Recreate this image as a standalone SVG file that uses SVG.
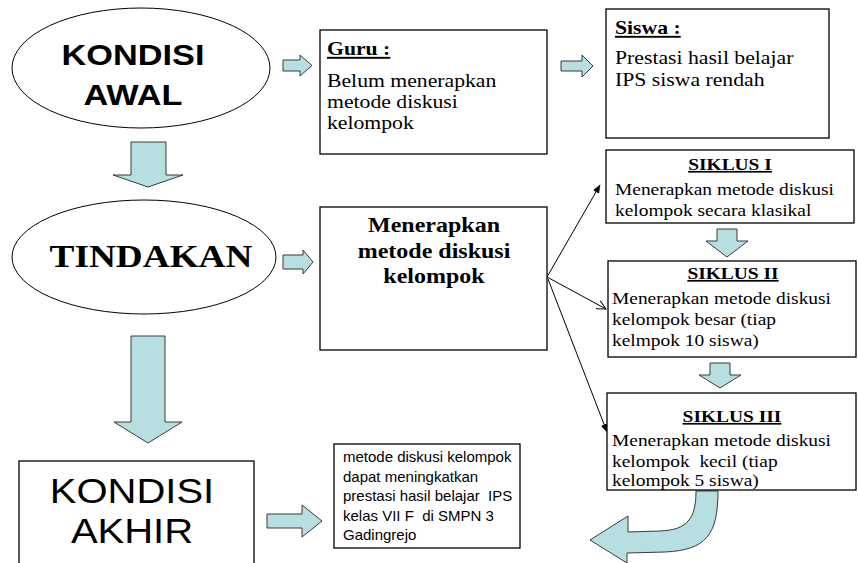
<svg xmlns="http://www.w3.org/2000/svg" width="858" height="563" viewBox="0 0 858 563">
<style>
.box{fill:#fff;stroke:#000;stroke-width:1.3}
.ell{fill:#fff;stroke:#000;stroke-width:1}
.blk{fill:#B7DEE0;stroke:#3a3a3a;stroke-width:1}
.con{stroke:#000;stroke-width:1;fill:none}
.tr{font-family:"Liberation Serif","Times New Roman",serif;fill:#000}
.ar{font-family:"Liberation Sans",Arial,sans-serif;fill:#000}
.b{font-weight:bold}
.u{text-decoration:underline}
.pre{white-space:pre}
</style>
<defs>
<marker id="arrF" markerWidth="9" markerHeight="8" refX="8" refY="4" orient="auto" markerUnits="userSpaceOnUse">
<path d="M0,0.5 L8.5,4 L0,7.5 Z" fill="#000"/>
</marker>
<marker id="arrO" markerWidth="10" markerHeight="10" refX="9" refY="5" orient="auto" markerUnits="userSpaceOnUse">
<path d="M0,0.5 L9,5 L0,9.5" fill="none" stroke="#000" stroke-width="1"/>
</marker>
</defs>

<g id="connectors">
<line class="con" x1="547" y1="277" x2="600" y2="185" marker-end="url(#arrF)"/>
<line class="con" x1="547" y1="277" x2="606" y2="309" marker-end="url(#arrO)"/>
<line class="con" x1="548" y1="279" x2="607" y2="432" marker-end="url(#arrF)"/>
<path class="blk" d="M283,60 H300 V55 L312,65.5 L300,76 V71 H283 Z"/>
<path class="blk" d="M561,61 H582 V55 L593,66 L582,77 V71 H561 Z"/>
<path class="blk" d="M131,142 H166 V175 H183 L148,187 L113,175 H131 Z"/>
<path class="blk" d="M283,255 H303 V250 L313,262 L303,274 V269 H283 Z"/>
<path class="blk" d="M131,336 H165 V422 H182 L148,443 L114,422 H131 Z"/>
<path class="blk" d="M717,229 H737 V241 H748 L727,257 L706,241 H717 Z"/>
<path class="blk" d="M710,363 H730 V375 H741 L720,388 L699,375 H710 Z"/>
<path class="blk" d="M267,514 H302 V505 L322,521 L302,537 V528 H267 Z"/>
<path class="blk" d="M696,491 C696,519 687,530 660,531 L628,532 L628,516 L590,540 L627,563 L627,553 L665,552 C706,550 718,535 718,491 Z"/>
</g>

<g id="kondisi-awal">
<ellipse class="ell" cx="141" cy="68" rx="129" ry="60"/>
<text class="ar b" font-size="30" text-anchor="middle" transform="translate(133,0) scale(1.143,1)"><tspan x="0" y="65">KONDISI</tspan><tspan x="0" y="105">AWAL</tspan></text>
</g>

<g id="guru">
<rect class="box" x="320" y="30" width="227" height="124"/>
<text class="tr" font-size="19" transform="translate(327,0) scale(1.143,1)"><tspan x="0" y="55" class="b u">Guru :</tspan><tspan x="0" y="87">Belum menerapkan</tspan><tspan x="0" y="108">metode diskusi</tspan><tspan x="0" y="129">kelompok</tspan></text>
</g>

<g id="siswa">
<rect class="box" x="606" y="9" width="223" height="129"/>
<text class="tr" font-size="19" transform="translate(615,0) scale(1.143,1)"><tspan x="0" y="34" class="b u">Siswa :</tspan><tspan x="0" y="64">Prestasi hasil belajar</tspan><tspan x="0" y="86">IPS siswa rendah</tspan></text>
</g>

<g id="tindakan">
<ellipse class="ell" cx="144" cy="257" rx="132" ry="57"/>
<text class="tr b" font-size="32.6" text-anchor="middle" transform="translate(151,0) scale(1.143,1)"><tspan x="0" y="267">TINDAKAN</tspan></text>
</g>

<g id="menerapkan">
<rect class="box" x="320" y="207" width="227" height="143"/>
<text class="tr b" font-size="21" text-anchor="middle" transform="translate(434,0) scale(1.143,1)"><tspan x="0" y="232">Menerapkan</tspan><tspan x="0" y="258">metode diskusi</tspan><tspan x="0" y="283">kelompok</tspan></text>
</g>

<g id="siklus-1">
<rect class="box" x="606" y="150" width="248" height="73"/>
<text class="tr b u" font-size="17" text-anchor="middle" transform="translate(730,0) scale(1.143,1)"><tspan x="0" y="170">SIKLUS I</tspan></text>
<text class="tr" font-size="17" transform="translate(615,0) scale(1.143,1)"><tspan x="0" y="195">Menerapkan metode diskusi</tspan><tspan x="0" y="216">kelompok secara klasikal</tspan></text>
</g>

<g id="siklus-2">
<rect class="box" x="608" y="261" width="248" height="96"/>
<text class="tr b u" font-size="17" text-anchor="middle" transform="translate(733,0) scale(1.143,1)"><tspan x="0" y="279">SIKLUS II</tspan></text>
<text class="tr" font-size="17" transform="translate(612,0) scale(1.143,1)"><tspan x="0" y="304">Menerapkan metode diskusi</tspan><tspan x="0" y="325">kelompok besar (tiap</tspan><tspan x="0" y="346">kelmpok 10 siswa)</tspan></text>
</g>

<g id="siklus-3">
<rect class="box" x="607" y="393" width="249" height="97"/>
<text class="tr b u" font-size="17" text-anchor="middle" transform="translate(732,0) scale(1.143,1)"><tspan x="0" y="422">SIKLUS III</tspan></text>
<text class="tr pre" font-size="17" xml:space="preserve" transform="translate(612,0) scale(1.143,1)"><tspan x="0" y="446">Menerapkan metode diskusi</tspan><tspan x="0" y="467">kelompok  kecil (tiap</tspan><tspan x="0" y="486">kelompok 5 siswa)</tspan></text>
</g>

<g id="kondisi-akhir">
<rect class="box" x="19" y="461" width="235" height="130"/>
<text class="ar" font-size="35" text-anchor="middle" transform="translate(132,0) scale(1.143,1)"><tspan x="0" y="503">KONDISI</tspan><tspan x="0" y="543">AKHIR</tspan></text>
</g>

<g id="hasil">
<rect class="box" x="334" y="444" width="186" height="104"/>
<text class="ar pre" font-size="15" xml:space="preserve" transform="translate(343,0)"><tspan x="0" y="462">metode diskusi kelompok</tspan><tspan x="0" y="481.5">dapat meningkatkan</tspan><tspan x="0" y="501">prestasi hasil belajar  IPS</tspan><tspan x="0" y="520.5">kelas VII F  di SMPN 3</tspan><tspan x="0" y="540">Gadingrejo</tspan></text>
</g>
</svg>
